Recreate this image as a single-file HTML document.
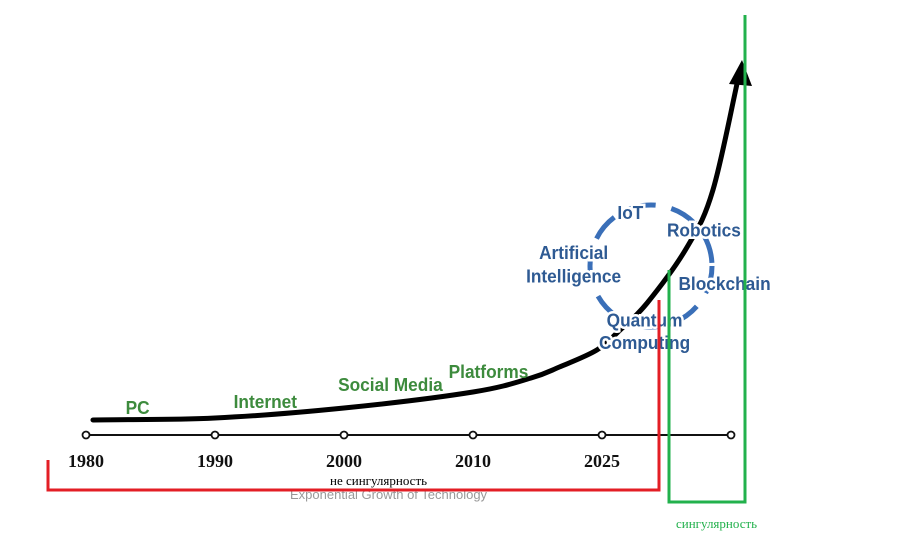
<!DOCTYPE html>
<html><head><meta charset="utf-8"><style>
html,body{margin:0;padding:0;background:#fff;}
svg{display:block;}
.lbl{font-family:"Liberation Sans Narrow","Liberation Sans",sans-serif;font-weight:bold;font-size:18px;}
.g{fill:#3d8b3d;}
.b{fill:#2e5a93;paint-order:stroke;stroke:#fff;stroke-width:5px;}
.yr{font-family:"Liberation Serif",serif;font-weight:bold;font-size:18px;fill:#111;}
</style></head><body>
<svg id="chart" width="900" height="543" viewBox="0 0 900 543">
<g id="axis"></g>
<circle cx="651" cy="266" r="61" fill="none" stroke="#3a6fb8" stroke-width="5" stroke-dasharray="28 16"/>
<path id="curve" fill="none" stroke="#000" stroke-width="5" stroke-linecap="round"/>
<polygon points="729,84 742,60 752,86" fill="#000"/>
<g id="labels"></g>
<text x="290" y="499" font-family="Liberation Sans,sans-serif" font-size="13" fill="#999">Exponential Growth of Technology</text>
<path d="M48,460 V490 H659 V300" fill="none" stroke="#e31e25" stroke-width="3"/>
<text x="330" y="485" font-family="Liberation Serif,serif" font-size="13" fill="#000">не сингулярность</text>
<path d="M669,270 V502 H745 V15" fill="none" stroke="#22b14c" stroke-width="3"/>
<text x="676" y="528" font-family="Liberation Serif,serif" font-size="13" fill="#22b14c">сингулярность</text>
</svg>
<script>
const years=["1980","1990","2000","2010","2025",""];
const curveX=[0.054,1,2,3,3.45,3.67,3.96,4.14,4.35,4.66,4.86,5.07];
const curveY=[0,0.16,0.96,2.24,3.36,4.24,5.6,7.2,9.36,13.84,18.4,28];
const eraNames=["PC","Internet","Social Media","Platforms","IoT","Robotics","Artificial","Intelligence","Blockchain","Quantum","Computing"];
const eraX=[0.4,1.39,2.36,3.12,4.22,4.79,3.78,3.78,4.95,4.33,4.33];
const eraY=[0.48,0.96,2.32,3.36,16.1,14.7,12.9,11,10.4,7.5,5.7];
const eraGroup=["g","g","g","g","b","b","b","b","b","b","b"];
const X=v=>86+v*129, Y=v=>420-v*12.5;
const NS="http://www.w3.org/2000/svg";
const ax=document.getElementById('axis');
let ln=document.createElementNS(NS,'line');
ln.setAttribute('x1',X(0));ln.setAttribute('x2',X(years.length-1));ln.setAttribute('y1',435);ln.setAttribute('y2',435);
ln.setAttribute('stroke','#111');ln.setAttribute('stroke-width','2');


ax.appendChild(ln);
years.forEach((y,i)=>{
 const c=document.createElementNS(NS,'circle');
 c.setAttribute('cx',X(i));c.setAttribute('cy',435);c.setAttribute('r',3.5);c.setAttribute('fill','#fff');c.setAttribute('stroke','#111');c.setAttribute('stroke-width','1.8');
 
 
 ax.appendChild(c);
 if(y){const t=document.createElementNS(NS,'text');
 t.setAttribute('x',X(i));t.setAttribute('y',467);t.setAttribute('text-anchor','middle');t.setAttribute('class','yr');t.textContent=y;
 
 
 ax.appendChild(t);}
});
let d='';
for(let i=0;i<curveX.length;i++){
 const x=X(curveX[i]),y=Y(curveY[i]);
 if(i==0)d='M'+x+','+y;
 else{const px=X(curveX[i-1]),py=Y(curveY[i-1]);
 const nx=i<curveX.length-1?X(curveX[i+1]):x+(x-px),ny=i<curveX.length-1?Y(curveY[i+1]):y+(y-py);
 const ppx=i>1?X(curveX[i-2]):px-(x-px),ppy=i>1?Y(curveY[i-2]):py-(y-py);
 d+=` C${px+(x-ppx)/6},${py+(y-ppy)/6} ${x-(nx-px)/6},${y-(ny-py)/6} ${x},${y}`;}
}
document.getElementById('curve').setAttribute('d',d);
const lg=document.getElementById('labels');
eraNames.forEach((n,i)=>{
 const t=document.createElementNS(NS,'text');
 t.setAttribute('x',X(eraX[i]));t.setAttribute('y',Y(eraY[i]));t.setAttribute('text-anchor','middle');
 t.setAttribute('class','lbl '+eraGroup[i]);t.textContent=n;
 
 
 lg.appendChild(t);
 const w=t.getComputedTextLength();
 t.setAttribute('textLength',(w*0.96).toFixed(1));
 t.setAttribute('lengthAdjust','spacingAndGlyphs');
});
</script>
</body></html>
